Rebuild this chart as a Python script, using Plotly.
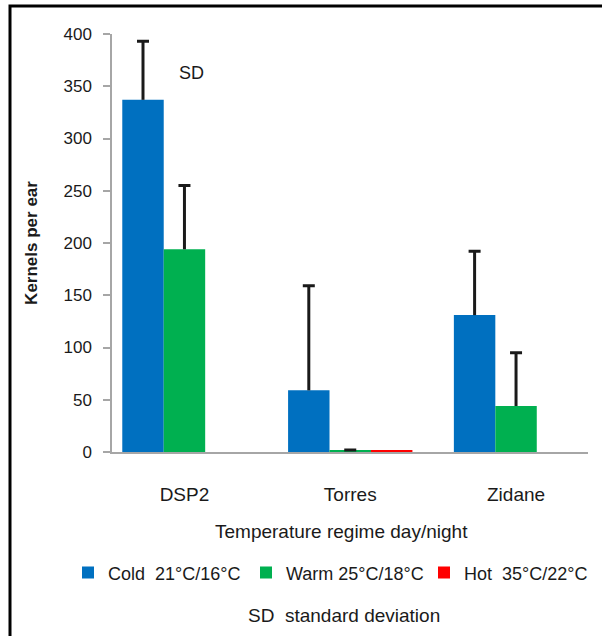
import plotly.graph_objects as go

# ---- data ----
genotypes = ["DSP2", "Torres", "Zidane"]
series_names = ["Cold\u00a0 21°C/16°C", "Warm 25°C/18°C", "Hot\u00a0 35°C/22°C"]
series_colors = ["#0070C0", "#00B050", "#FF0000"]
cold_mean = [337, 59, 131]
warm_mean = [194, 1.5, 44]
hot_mean = [None, 1.5, None]
cold_sd = [56, 100, 61]
warm_sd = [61, 0.5, 51]
hot_sd = [None, None, None]
y_ticks = [0, 50, 100, 150, 200, 250, 300, 350, 400]

means = [cold_mean, warm_mean, hot_mean]
sds = [cold_sd, warm_sd, hot_sd]

FONT = "Liberation Sans, Arial, sans-serif"
ERR_COLOR = "#1a1a1a"

fig = go.Figure()
for k, (name, color, m, s) in enumerate(zip(series_names, series_colors, means, sds)):
    grp = "g%d" % k
    # visible bars with the error stem (upper direction only, no caps)
    fig.add_trace(go.Bar(
        x=genotypes, y=m, name=name, offsetgroup=grp,
        marker=dict(color=color, line=dict(width=0)),
        error_y=dict(type="data", symmetric=False, array=s,
                     arrayminus=[0 if v is not None else None for v in s],
                     color=ERR_COLOR, thickness=3, width=0, visible=True),
    ))
    # transparent companion bars carrying only the top cap of each error bar
    tops = [(a + b) if (a is not None and b is not None) else None for a, b in zip(m, s)]
    fig.add_trace(go.Bar(
        x=genotypes, y=tops, offsetgroup=grp, showlegend=False, hoverinfo="skip",
        marker=dict(color="rgba(0,0,0,0)", line=dict(width=0)),
        error_y=dict(type="data", symmetric=True,
                     array=[0 if v is not None else None for v in tops],
                     color=ERR_COLOR, thickness=3, width=6, visible=True),
    ))

fig.update_layout(
    width=602, height=636,
    margin=dict(l=112, r=14, t=34, b=184),
    paper_bgcolor="white", plot_bgcolor="white",
    barmode="group", bargap=0.25, bargroupgap=0,
    font=dict(family=FONT, color="#1a1a1a", size=17),
    showlegend=True,
    legend=dict(orientation="h", x=-0.09, xanchor="left", y=-0.289,
                yanchor="middle", entrywidth=133, entrywidthmode="pixels",
                font=dict(size=18, family=FONT), bgcolor="rgba(0,0,0,0)",
                traceorder="normal"),
    xaxis=dict(type="category", range=[-0.437, 2.434], showgrid=False,
               showline=True, linecolor="#a6a6a6", linewidth=1.5,
               ticks="", tickfont=dict(size=19, family=FONT),
               ticklabelstandoff=24, zeroline=False),
    yaxis=dict(range=[0, 400], tickvals=y_ticks, showgrid=False,
               showline=True, linecolor="#a6a6a6", linewidth=1.5,
               ticks="outside", ticklen=7, tickcolor="#a6a6a6", tickwidth=1.5,
               tickfont=dict(size=17, family=FONT), ticklabelstandoff=8,
               zeroline=False,
               title=dict(text="<b>Kernels per ear</b>", standoff=22,
                          font=dict(size=17, family=FONT))),
    annotations=[
        dict(text="SD", xref="paper", yref="paper", x=0.168, y=0.907,
             xanchor="center", yanchor="middle",
             showarrow=False, font=dict(size=18, family=FONT)),
        dict(text="Temperature regime day/night", xref="paper", yref="paper",
             x=0.483, y=-0.189, xanchor="center", yanchor="middle",
             showarrow=False, font=dict(size=19, family=FONT)),
        dict(text="SD\u00a0 standard deviation", xref="paper", yref="paper",
             x=0.487, y=-0.39, xanchor="center", yanchor="middle",
             showarrow=False, font=dict(size=19, family=FONT)),
    ],
    shapes=[
        dict(type="rect", xref="paper", yref="paper",
             x0=(10 - 112) / 476, x1=(640 - 112) / 476,
             y0=(452 - 680) / 418, y1=(452 - 6) / 418,
             line=dict(color="black", width=3), layer="above"),
    ],
)

fig.write_html("out.html", config={"displayModeBar": False},
               post_script="document.body.style.margin='0';")
